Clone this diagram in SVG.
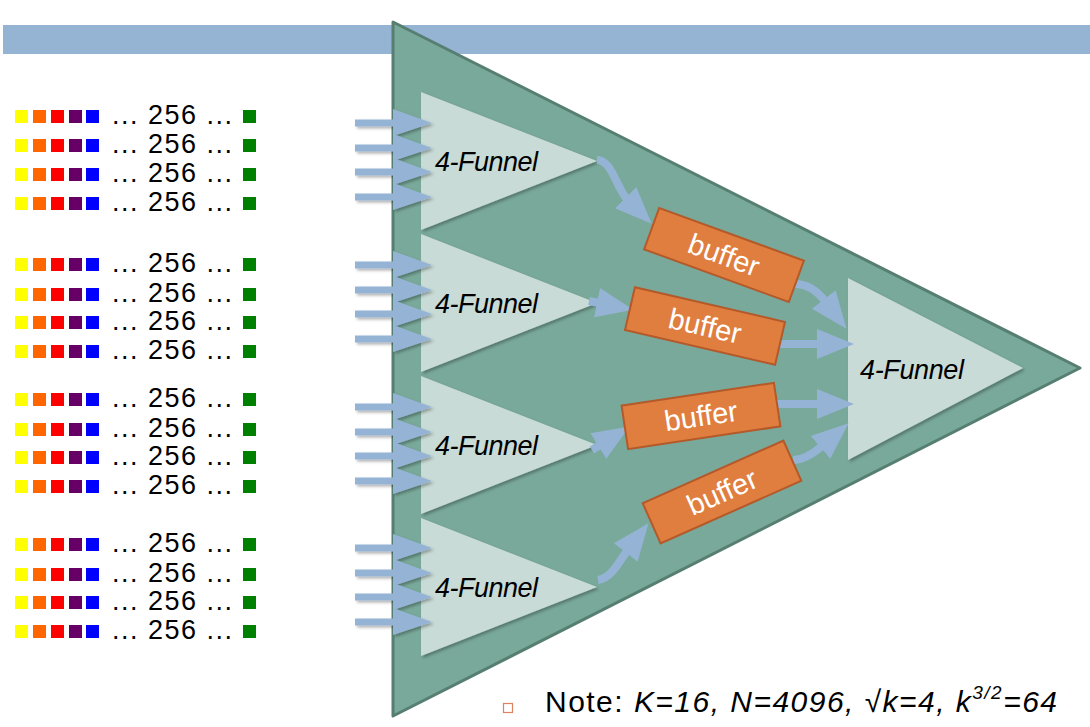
<svg xmlns="http://www.w3.org/2000/svg" width="1090" height="727" viewBox="0 0 1090 727">
<style>
.row{font-family:"Liberation Sans",Arial,sans-serif;font-size:27px;fill:#000}
.fl{font-family:"Liberation Sans",Arial,sans-serif;font-size:27px;font-style:italic;fill:#000}
.bt{font-family:"Liberation Sans",Arial,sans-serif;font-size:29px;fill:#fff;text-anchor:middle}
.funnel{fill:#c9dbd6;filter:url(#sh)}
.buf{fill:#e07e3f;stroke:#b4592a;stroke-width:2}
.conn{fill:none;stroke:#95b4d5;stroke-width:8;marker-end:url(#ah)}
.inarr{fill:#95b4d5}
.y{fill:#ffff00}.o{fill:#ff6600}.r{fill:#ff0000}.p{fill:#660066}.b{fill:#0000ff}.g{fill:#008000}
</style>
<defs>
<filter id="sh" x="-10%" y="-10%" width="130%" height="130%">
<feDropShadow dx="2" dy="2" stdDeviation="1.5" flood-color="#000" flood-opacity="0.3"/>
</filter>
<marker id="ah" markerUnits="userSpaceOnUse" markerWidth="40" markerHeight="34" viewBox="0 -17 40 34" refX="2" refY="0" orient="auto">
<path d="M0,-15 L37,0 L0,15 Z" fill="#95b4d5"/>
</marker>
<g id="rowtpl">
<rect class="y" x="15" y="0" width="13" height="13"/>
<rect class="o" x="33" y="0" width="13" height="13"/>
<rect class="r" x="51" y="0" width="13" height="13"/>
<rect class="p" x="69" y="0" width="13" height="13"/>
<rect class="b" x="86" y="0" width="13" height="13"/>
<rect class="g" x="243" y="0" width="13" height="13"/>
</g>
</defs>
<rect id="bar" x="3" y="25" width="1087" height="29" fill="#95b3d3"/>
<g id="inputs">
<use href="#rowtpl" y="110"/><text class="row" x="112" y="124" textLength="120" lengthAdjust="spacing">... 256 ...</text>
<use href="#rowtpl" y="139"/><text class="row" x="112" y="153" textLength="120" lengthAdjust="spacing">... 256 ...</text>
<use href="#rowtpl" y="168"/><text class="row" x="112" y="182" textLength="120" lengthAdjust="spacing">... 256 ...</text>
<use href="#rowtpl" y="197"/><text class="row" x="112" y="211" textLength="120" lengthAdjust="spacing">... 256 ...</text>
<use href="#rowtpl" y="258"/><text class="row" x="112" y="272" textLength="120" lengthAdjust="spacing">... 256 ...</text>
<use href="#rowtpl" y="288"/><text class="row" x="112" y="302" textLength="120" lengthAdjust="spacing">... 256 ...</text>
<use href="#rowtpl" y="316"/><text class="row" x="112" y="330" textLength="120" lengthAdjust="spacing">... 256 ...</text>
<use href="#rowtpl" y="345"/><text class="row" x="112" y="359" textLength="120" lengthAdjust="spacing">... 256 ...</text>
<use href="#rowtpl" y="393"/><text class="row" x="112" y="407" textLength="120" lengthAdjust="spacing">... 256 ...</text>
<use href="#rowtpl" y="423"/><text class="row" x="112" y="437" textLength="120" lengthAdjust="spacing">... 256 ...</text>
<use href="#rowtpl" y="451"/><text class="row" x="112" y="465" textLength="120" lengthAdjust="spacing">... 256 ...</text>
<use href="#rowtpl" y="480"/><text class="row" x="112" y="494" textLength="120" lengthAdjust="spacing">... 256 ...</text>
<use href="#rowtpl" y="538"/><text class="row" x="112" y="552" textLength="120" lengthAdjust="spacing">... 256 ...</text>
<use href="#rowtpl" y="568"/><text class="row" x="112" y="582" textLength="120" lengthAdjust="spacing">... 256 ...</text>
<use href="#rowtpl" y="596"/><text class="row" x="112" y="610" textLength="120" lengthAdjust="spacing">... 256 ...</text>
<use href="#rowtpl" y="625"/><text class="row" x="112" y="639" textLength="120" lengthAdjust="spacing">... 256 ...</text>
</g>
<g id="big-funnel">
<polygon points="393,22 1080,368 393,716" fill="#79a99a" stroke="#567f72" stroke-width="3" stroke-linejoin="round"/>
</g>
<g id="funnel1"><polygon class="funnel" points="421,92 597,161 421,230"/><text class="fl" x="435" y="171" textLength="103">4-Funnel</text></g>
<g id="funnel2"><polygon class="funnel" points="421,234 597,303 421,372"/><text class="fl" x="435" y="313" textLength="103">4-Funnel</text></g>
<g id="funnel3"><polygon class="funnel" points="421,376 597,445 421,514"/><text class="fl" x="435" y="455" textLength="103">4-Funnel</text></g>
<g id="funnel4"><polygon class="funnel" points="421,518 597,587 421,656"/><text class="fl" x="435" y="597" textLength="103">4-Funnel</text></g>
<g id="funnel-out"><polygon class="funnel" points="848,278 1023,368 848,460"/><text class="fl" x="860" y="379" textLength="104">4-Funnel</text></g>
<g id="connectors">
<g id="in-arrows" filter="url(#sh)">
<g id="in4">
<path class="inarr" d="M355,119.5 H396 V126.5 H355 Z M393,109 L432,123 L393,136 Z"/>
<path class="inarr" d="M355,144.5 H396 V151.5 H355 Z M393,134 L432,148 L393,161 Z"/>
<path class="inarr" d="M355,168.5 H396 V175.5 H355 Z M393,158 L432,172 L393,185 Z"/>
<path class="inarr" d="M355,193.5 H396 V200.5 H355 Z M393,183 L432,197 L393,210 Z"/>
</g>
<use href="#in4" y="142"/>
<use href="#in4" y="284"/>
<use href="#in4" y="425"/>
</g>
<path class="conn" d="M597,160 C612,160 617,189 627,199"/>
<path class="conn" d="M589,301 L599,303"/>
<path class="conn" d="M592,450 L600,445"/>
<path class="conn" d="M598,580 C612,578 620,560 627,551"/>
<path class="conn" d="M795,284 C808,284 818,292 825,301"/>
<path class="conn" d="M778,344 L819,344"/>
<path class="conn" d="M776,404 L819,404"/>
<path class="conn" d="M793,460 C805,460 815,452 822,446"/>
</g>
<g id="buffer1" transform="translate(724,255) rotate(20)"><rect class="buf" x="-77" y="-22" width="154" height="44"/><text class="bt" x="0" y="10">buffer</text></g>
<g id="buffer2" transform="translate(705,326) rotate(13)"><rect class="buf" x="-77" y="-22" width="154" height="44"/><text class="bt" x="0" y="10">buffer</text></g>
<g id="buffer3" transform="translate(701,416) rotate(-8.5)"><rect class="buf" x="-77" y="-22" width="154" height="44"/><text class="bt" x="0" y="10">buffer</text></g>
<g id="buffer4" transform="translate(722,492) rotate(-24)"><rect class="buf" x="-77" y="-22" width="154" height="44"/><text class="bt" x="0" y="10">buffer</text></g>
<g id="note">
<rect x="503.5" y="703.5" width="9" height="9" fill="none" stroke="#d9845f" stroke-width="1.2"/>
<text x="545" y="712" font-family="Liberation Sans, Arial, sans-serif" font-size="30" fill="#000" textLength="512" lengthAdjust="spacing">Note: <tspan font-style="italic">K=16, N=4096, √k=4, k</tspan><tspan font-style="italic" font-size="19" dy="-13">3/2</tspan><tspan font-style="italic" dy="13">=64</tspan></text>
</g>
</svg>
